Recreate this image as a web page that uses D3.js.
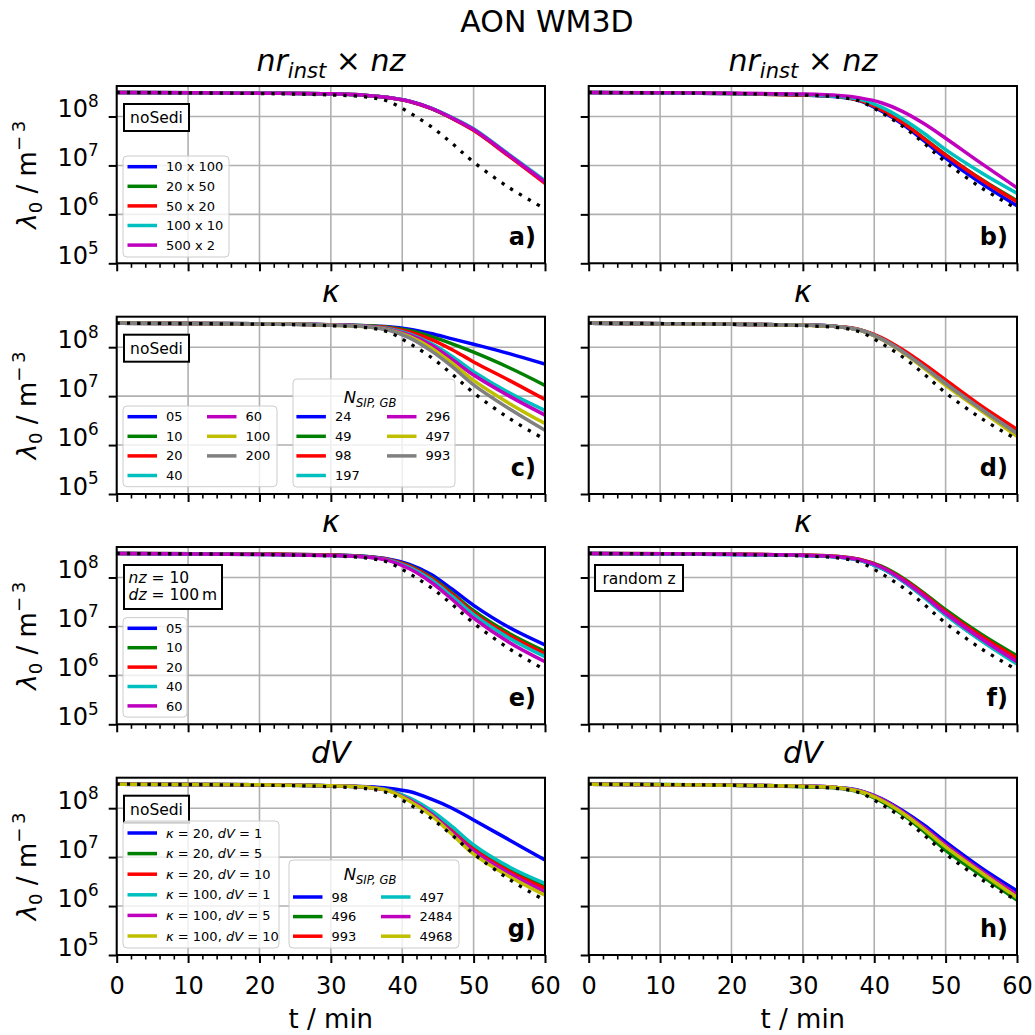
<!DOCTYPE html>
<html>
<head>
<meta charset="utf-8">
<script src="https://cdn.jsdelivr.net/npm/d3@7"></script>
<style>
body { margin: 0; background: #fff; }
svg text { font-family: "DejaVu Sans", sans-serif; }
</style>
</head>
<body>
<svg id="fig" width="1035" height="1035"></svg>
<script>
var timeMin = [0, 20, 30, 35, 38, 41, 44, 47, 50, 55, 60]

// black dotted reference, the same in every panel
var refCurve = [3.1e8, 2.95e8, 2.75e8, 2.5e8, 2.05e8, 1.2e8, 6.3e7, 2.8e7, 1.17e7, 3.5e6, 1.3e6]

// a) nr_inst x nz, noSedi
var a_10x100 = [3.1e8, 3.0e8, 2.9e8, 2.7e8, 2.45e8, 2.05e8, 1.48e8, 9.3e7, 5.4e7, 1.6e7, 4.6e6]
var a_20x50 = [3.1e8, 3.0e8, 2.9e8, 2.7e8, 2.45e8, 2.04e8, 1.47e8, 9.2e7, 5.3e7, 1.57e7, 4.5e6]
var a_50x20 = [3.1e8, 3.0e8, 2.9e8, 2.7e8, 2.44e8, 2.03e8, 1.46e8, 9.1e7, 5.2e7, 1.53e7, 4.3e6]
var a_100x10 = [3.1e8, 3.0e8, 2.9e8, 2.7e8, 2.46e8, 2.06e8, 1.5e8, 9.5e7, 5.6e7, 1.66e7, 4.9e6]
var a_500x2 = [3.1e8, 3.0e8, 2.9e8, 2.7e8, 2.45e8, 2.05e8, 1.48e8, 9.3e7, 5.4e7, 1.6e7, 4.6e6]

// b) nr_inst x nz
var b_10x100 = [3.1e8, 2.95e8, 2.75e8, 2.5e8, 2.1e8, 1.29e8, 6.9e7, 3.16e7, 1.41e7, 4.3e6, 1.5e6]
var b_20x50 = [3.1e8, 2.95e8, 2.75e8, 2.57e8, 2.14e8, 1.38e8, 7.6e7, 3.55e7, 1.66e7, 5.2e6, 1.9e6]
var b_50x20 = [3.1e8, 2.95e8, 2.75e8, 2.57e8, 2.14e8, 1.38e8, 7.4e7, 3.5e7, 1.62e7, 5.1e6, 1.8e6]
var b_100x10 = [3.1e8, 2.95e8, 2.82e8, 2.57e8, 2.24e8, 1.55e8, 8.9e7, 4.5e7, 2.1e7, 7.1e6, 2.7e6]
var b_500x2 = [3.1e8, 3.0e8, 2.88e8, 2.69e8, 2.4e8, 1.91e8, 1.26e8, 7.1e7, 3.6e7, 1.1e7, 3.5e6]

// c) kappa, noSedi
var c_k05 = [3.1e8, 3.0e8, 2.88e8, 2.75e8, 2.63e8, 2.34e8, 1.91e8, 1.48e8, 1.15e8, 7.4e7, 4.5e7]
var c_k10 = [3.1e8, 3.0e8, 2.88e8, 2.75e8, 2.57e8, 2.19e8, 1.66e8, 1.17e8, 7.9e7, 3.8e7, 1.66e7]
var c_k20 = [3.1e8, 3.0e8, 2.88e8, 2.69e8, 2.51e8, 2.04e8, 1.45e8, 8.9e7, 5.0e7, 2.1e7, 8.5e6]
var c_k40 = [3.1e8, 3.0e8, 2.88e8, 2.69e8, 2.4e8, 1.86e8, 1.2e8, 6.5e7, 3.16e7, 1.17e7, 5.1e6]
var c_k60 = [3.1e8, 3.0e8, 2.88e8, 2.69e8, 2.34e8, 1.78e8, 1.12e8, 5.6e7, 2.7e7, 1.0e7, 4.1e6]
var c_k100 = [3.1e8, 3.0e8, 2.82e8, 2.63e8, 2.29e8, 1.66e8, 9.8e7, 4.7e7, 2.1e7, 7.1e6, 2.75e6]
var c_k200 = [3.1e8, 3.0e8, 2.82e8, 2.63e8, 2.24e8, 1.55e8, 8.5e7, 4.0e7, 1.7e7, 5.5e6, 2.0e6]

// d) kappa
var d_k05 = [3.1e8, 2.95e8, 2.82e8, 2.63e8, 2.24e8, 1.49e8, 8.2e7, 4.0e7, 1.85e7, 5.5e6, 1.76e6]
var d_k10 = [3.1e8, 2.95e8, 2.82e8, 2.63e8, 2.25e8, 1.5e8, 8.3e7, 4.05e7, 1.88e7, 5.6e6, 1.8e6]
var d_k20 = [3.1e8, 2.95e8, 2.82e8, 2.63e8, 2.29e8, 1.58e8, 8.9e7, 4.5e7, 2.14e7, 6.3e6, 2.1e6]
var d_k40 = [3.1e8, 2.95e8, 2.82e8, 2.63e8, 2.24e8, 1.48e8, 8.1e7, 3.9e7, 1.82e7, 5.4e6, 1.74e6]
var d_k60 = [3.1e8, 2.95e8, 2.82e8, 2.63e8, 2.24e8, 1.47e8, 8.0e7, 3.85e7, 1.78e7, 5.3e6, 1.7e6]
var d_k100 = [3.1e8, 2.95e8, 2.82e8, 2.63e8, 2.22e8, 1.45e8, 7.8e7, 3.7e7, 1.66e7, 5.0e6, 1.5e6]
var d_k200 = [3.1e8, 2.95e8, 2.82e8, 2.63e8, 2.24e8, 1.48e8, 8.1e7, 3.9e7, 1.8e7, 5.4e6, 1.72e6]

// e) kappa, nz = 10, dz = 100 m
var e_k05 = [3.1e8, 3.0e8, 2.88e8, 2.69e8, 2.4e8, 1.86e8, 1.17e8, 5.75e7, 2.7e7, 9.5e6, 4.2e6]
var e_k10 = [3.1e8, 3.0e8, 2.88e8, 2.69e8, 2.34e8, 1.74e8, 1.02e8, 4.8e7, 2.1e7, 7.2e6, 3.1e6]
var e_k20 = [3.1e8, 3.0e8, 2.88e8, 2.63e8, 2.34e8, 1.7e8, 9.8e7, 4.5e7, 1.9e7, 6.5e6, 2.75e6]
var e_k40 = [3.1e8, 2.95e8, 2.82e8, 2.63e8, 2.29e8, 1.62e8, 9.1e7, 4.1e7, 1.74e7, 5.75e6, 2.4e6]
var e_k60 = [3.1e8, 2.95e8, 2.82e8, 2.63e8, 2.24e8, 1.51e8, 8.1e7, 3.55e7, 1.48e7, 4.7e6, 1.9e6]

// f) kappa, random z
var f_k05 = [3.1e8, 2.95e8, 2.82e8, 2.63e8, 2.24e8, 1.55e8, 8.5e7, 4.0e7, 1.74e7, 5.2e6, 1.78e6]
var f_k10 = [3.1e8, 3.0e8, 2.88e8, 2.69e8, 2.34e8, 1.7e8, 9.8e7, 4.8e7, 2.2e7, 6.9e6, 2.5e6]
var f_k20 = [3.1e8, 3.0e8, 2.88e8, 2.69e8, 2.34e8, 1.66e8, 9.3e7, 4.5e7, 2.0e7, 6.3e6, 2.24e6]
var f_k40 = [3.1e8, 2.95e8, 2.82e8, 2.63e8, 2.24e8, 1.55e8, 8.5e7, 3.9e7, 1.7e7, 5.1e6, 1.7e6]
var f_k60 = [3.1e8, 3.0e8, 2.85e8, 2.66e8, 2.29e8, 1.62e8, 8.9e7, 4.2e7, 1.86e7, 5.6e6, 1.9e6]

// g) dV, noSedi
var g_k20dv1 = [3.1e8, 3.0e8, 2.88e8, 2.75e8, 2.57e8, 2.19e8, 1.55e8, 1.0e8, 5.75e7, 2.24e7, 8.7e6]
var g_k20dv5 = [3.1e8, 3.0e8, 2.88e8, 2.69e8, 2.34e8, 1.55e8, 8.3e7, 3.6e7, 1.51e7, 5.5e6, 2.45e6]
var g_k20dv10 = [3.1e8, 3.0e8, 2.88e8, 2.69e8, 2.34e8, 1.55e8, 8.1e7, 3.55e7, 1.45e7, 5.1e6, 2.3e6]
var g_k100dv1 = [3.1e8, 3.0e8, 2.88e8, 2.69e8, 2.34e8, 1.62e8, 9.1e7, 4.2e7, 1.78e7, 6.3e6, 2.9e6]
var g_k100dv5 = [3.1e8, 3.0e8, 2.88e8, 2.69e8, 2.29e8, 1.48e8, 7.8e7, 3.2e7, 1.32e7, 4.6e6, 1.95e6]
var g_k100dv10 = [3.1e8, 3.0e8, 2.88e8, 2.69e8, 2.29e8, 1.41e8, 7.2e7, 2.9e7, 1.15e7, 4.0e6, 1.66e6]

// h) dV
var h_k20dv1 = [3.1e8, 2.95e8, 2.82e8, 2.63e8, 2.29e8, 1.58e8, 8.9e7, 4.5e7, 2.04e7, 6.0e6, 2.04e6]
var h_k20dv5 = [3.1e8, 2.95e8, 2.75e8, 2.57e8, 2.14e8, 1.38e8, 7.4e7, 3.3e7, 1.38e7, 4.2e6, 1.32e6]
var h_k20dv10 = [3.1e8, 2.95e8, 2.82e8, 2.63e8, 2.24e8, 1.51e8, 8.3e7, 4.0e7, 1.78e7, 5.2e6, 1.7e6]
var h_k100dv1 = [3.1e8, 2.95e8, 2.82e8, 2.63e8, 2.24e8, 1.5e8, 8.2e7, 3.95e7, 1.72e7, 5.1e6, 1.68e6]
var h_k100dv5 = [3.1e8, 2.95e8, 2.82e8, 2.63e8, 2.24e8, 1.51e8, 8.3e7, 4.0e7, 1.78e7, 5.2e6, 1.7e6]
var h_k100dv10 = [3.1e8, 2.95e8, 2.82e8, 2.63e8, 2.19e8, 1.45e8, 7.9e7, 3.7e7, 1.62e7, 4.8e6, 1.5e6]

// legend labels
var nrnzLabels = ['10 x 100', '20 x 50', '50 x 20', '100 x 10', '500 x 2']
var kappaLabels = ['05', '10', '20', '40', '60', '100', '200']
var nsipKappa = ['24', '49', '98', '197', '296', '497', '993']
var kappaG = [20, 20, 20, 100, 100, 100]
var dvG = [1, 5, 10, 1, 5, 10]
var nsipDv = ['98', '496', '993', '497', '2484', '4968']

var xTicks = [0, 10, 20, 30, 40, 50, 60]
var yTicks = [1e5, 1e6, 1e7, 1e8]

var colors = ['#0000ff', '#008000', '#ff0000', '#00bfbf', '#bf00bf', '#bfbf00', '#808080']

var panelW = 428.3, panelH = 177.3
var colX = [116.7, 588.7]
var rowY = [86, 316.7, 547, 777.7]

var xScale = d3.scaleLinear().domain([0, 60]).range([0, panelW])
var yScale = d3.scaleLog().domain([1e5, 4.2e8]).range([panelH, 0])

var svg = d3.select('#fig')

// text with italic / sub / superscript pieces
function rich(sel, parts, fs) {
    var off = 0
    parts.forEach(function (p) {
        var o = p.sub ? 0.22 * fs : (p.sup ? -0.42 * fs : 0)
        var ts = sel.append('tspan').text(p.t)
            .attr('dy', o - off)
            .attr('font-size', (p.sub || p.sup) ? fs * 0.7 : fs)
        if (p.it) ts.attr('font-style', 'italic')
        off = o
    })
}

var nrnzTitle = [{t: 'nr', it: true}, {t: 'inst', it: true, sub: true}, {t: ' \u00d7 '}, {t: 'nz', it: true}]
var kappaTitle = [{t: '\u03ba', it: true}]
var dvTitle = [{t: 'dV', it: true}]
var nsipTitle = [{t: 'N', it: true}, {t: 'SIP, GB', it: true, sub: true}]

function plain(labels, n) {
    return labels.slice(0, n).map(function (l, i) { return {parts: [{t: l}], color: colors[i]} })
}
function dvEntries() {
    return kappaG.map(function (k, i) {
        return {parts: [{t: '\u03ba', it: true}, {t: ' = ' + k + ', '}, {t: 'dV', it: true}, {t: ' = ' + dvG[i]}], color: colors[i]}
    })
}
var nsipDvEntries = nsipDv.map(function (l, i) { return {parts: [{t: l}], color: colors[i]} })

var noSediBox = {x: 7.3, y: 18, w: 65, h: 27, lines: [[{t: 'noSedi'}]], anchor: 'middle'}

var panels = [
    {lab: 'a)', row: 0, col: 0, title: nrnzTitle, series: [a_10x100, a_20x50, a_50x20, a_100x10, a_500x2], box: noSediBox,
     legends: [{x: 6.3, y: 70, w: 106, h: 101, ncol: 1, colX: [10.8], row0: 80.7, step: 19.6, entries: plain(nrnzLabels, 5)}]},
    {lab: 'b)', row: 0, col: 1, title: nrnzTitle, series: [b_10x100, b_20x50, b_50x20, b_100x10, b_500x2], legends: []},
    {lab: 'c)', row: 1, col: 0, title: kappaTitle, series: [c_k05, c_k10, c_k20, c_k40, c_k60, c_k100, c_k200], box: noSediBox,
     legends: [{x: 6.3, y: 89.3, w: 154, h: 80.7, ncol: 2, colX: [10.8, 90.3], row0: 100, step: 19.6, entries: plain(kappaLabels, 7)},
               {x: 176.3, y: 62.3, w: 162, h: 108, ncol: 2, colX: [179.7, 270.3], row0: 100, step: 19.6, title: nsipTitle, titleY: 86.6,
                entries: plain(nsipKappa, 7)}]},
    {lab: 'd)', row: 1, col: 1, title: kappaTitle, series: [d_k05, d_k10, d_k20, d_k40, d_k60, d_k100, d_k200], legends: []},
    {lab: 'e)', row: 2, col: 0, title: kappaTitle, series: [e_k05, e_k10, e_k20, e_k40, e_k60],
     box: {x: 7.3, y: 18, w: 98, h: 44, anchor: 'start', tx: 11.9, lineY: [36, 53],
           lines: [[{t: 'nz', it: true}, {t: ' = 10'}], [{t: 'dz', it: true}, {t: ' = 100\u2009m'}]]},
     legends: [{x: 6.3, y: 70.6, w: 64, h: 99.5, ncol: 1, colX: [10.8], row0: 81.3, step: 19.4, entries: plain(kappaLabels, 5)}]},
    {lab: 'f)', row: 2, col: 1, title: kappaTitle, series: [f_k05, f_k10, f_k20, f_k40, f_k60],
     box: {x: 6.3, y: 18, w: 88, h: 26, lines: [[{t: 'random z'}]], anchor: 'middle'}, legends: []},
    {lab: 'g)', row: 3, col: 0, title: dvTitle, series: [g_k20dv1, g_k20dv5, g_k20dv10, g_k100dv1, g_k100dv5, g_k100dv10], box: noSediBox,
     legends: [{x: 6.3, y: 43.3, w: 156, h: 127, ncol: 1, colX: [10.8], row0: 55.3, step: 20.6, entries: dvEntries()},
               {x: 172.3, y: 82.3, w: 170, h: 88, ncol: 2, colX: [176.3, 264.3], row0: 119.3, step: 19.6, title: nsipTitle, titleY: 102.3,
                entries: nsipDvEntries}]},
    {lab: 'h)', row: 3, col: 1, title: dvTitle, series: [h_k20dv1, h_k20dv5, h_k20dv10, h_k100dv1, h_k100dv5, h_k100dv10], legends: []}
]

svg.append('text').attr('x', 547).attr('y', 31.5).attr('text-anchor', 'middle')
    .attr('font-size', 30).text('AON WM3D')

var line = d3.line()
    .x(function (d, i) { return xScale(timeMin[i]) })
    .y(function (d) { return yScale(d) })
    .curve(d3.curveCatmullRom.alpha(0.5))

function drawLegend(g, L) {
    g.append('rect').attr('x', L.x).attr('y', L.y).attr('width', L.w).attr('height', L.h)
        .attr('rx', 4).attr('fill', '#fff').attr('fill-opacity', 0.8)
        .attr('stroke', '#cccccc').attr('stroke-width', 1)
    if (L.title) {
        var tt = g.append('text').attr('x', L.x + L.w / 2 - 4).attr('y', L.titleY).attr('text-anchor', 'middle')
        rich(tt, L.title, 16.5)
    }
    var nrows = Math.ceil(L.entries.length / L.ncol)
    L.entries.forEach(function (e, i) {
        var c = Math.floor(i / nrows), r = i % nrows
        var hx = L.colX[c], y = L.row0 + r * L.step
        g.append('line').attr('x1', hx).attr('x2', hx + 29.5).attr('y1', y).attr('y2', y)
            .attr('stroke', e.color).attr('stroke-width', 3.5)
        var t = g.append('text').attr('x', hx + 38.5).attr('y', y + 4.6)
        rich(t, e.parts, 13)
    })
}

panels.forEach(function (p, pi) {
    var g = svg.append('g').attr('transform', 'translate(' + colX[p.col] + ',' + rowY[p.row] + ')')
    var bottom = p.row === 3, left = p.col === 0

    g.append('clipPath').attr('id', 'clip' + pi).append('rect')
        .attr('width', panelW).attr('height', panelH)

    // grid
    g.selectAll('.gx').data(xTicks).enter().append('line')
        .attr('x1', function (d) { return xScale(d) }).attr('x2', function (d) { return xScale(d) })
        .attr('y1', 0).attr('y2', panelH).attr('stroke', '#b0b0b0').attr('stroke-width', 1.6)
    g.selectAll('.gy').data(yTicks).enter().append('line')
        .attr('x1', 0).attr('x2', panelW)
        .attr('y1', function (d) { return yScale(d) }).attr('y2', function (d) { return yScale(d) })
        .attr('stroke', '#b0b0b0').attr('stroke-width', 1.6)

    var lg = g.append('g').attr('clip-path', 'url(#clip' + pi + ')')
    p.series.forEach(function (s, i) {
        lg.append('path').attr('d', line(s)).attr('fill', 'none')
            .attr('stroke', colors[i]).attr('stroke-width', 3.5)
    })
    lg.append('path').attr('d', line(refCurve)).attr('fill', 'none')
        .attr('stroke', '#000').attr('stroke-width', 3.3).attr('stroke-dasharray', '3.3,7')

    // spines
    g.append('rect').attr('width', panelW).attr('height', panelH)
        .attr('fill', 'none').attr('stroke', '#000').attr('stroke-width', 2)

    // x axis, major + minor ticks
    var xMajor = d3.axisBottom(xScale).tickValues(xTicks).tickSize(8).tickPadding(14)
        .tickFormat(bottom ? d3.format('d') : function () { return '' })
    var xa = g.append('g').attr('transform', 'translate(0,' + panelH + ')').call(xMajor)
    xa.select('.domain').remove()
    xa.attr('font-size', 24).attr('font-family', '"DejaVu Sans", sans-serif')
    xa.selectAll('line').attr('stroke-width', 2)

    var xMinor = d3.axisBottom(xScale).tickValues(d3.range(0, 61, 2).filter(function (v) { return v % 10 })).tickSize(4.5).tickFormat('')
    var xm = g.append('g').attr('transform', 'translate(0,' + panelH + ')').call(xMinor)
    xm.select('.domain').remove()
    xm.selectAll('line').attr('stroke-width', 1.6)

    // y axis
    var yAxis = d3.axisLeft(yScale).tickValues(yTicks).tickSize(8).tickPadding(10)
        .tickFormat(function () { return '' })
    var ya = g.append('g').call(yAxis)
    ya.select('.domain').remove()
    ya.attr('font-size', 24).attr('font-family', '"DejaVu Sans", sans-serif')
    ya.selectAll('line').attr('stroke-width', 2)
    if (left) {
        ya.selectAll('text').each(function (d) {
            var t = d3.select(this)
            t.text(null)
            rich(t, [{t: '10'}, {t: String(Math.round(Math.log10(d))), sup: true}], 24)
        })
        var yl = svg.append('text')
            .attr('transform', 'translate(36,' + (rowY[p.row] + panelH / 2) + ') rotate(-90)')
            .attr('text-anchor', 'middle')
        rich(yl, [{t: '\u03bb', it: true}, {t: '0', sub: true}, {t: ' / m'}, {t: '\u2212\u20093', sup: true}], 26)
    }
    if (bottom) {
        g.append('text').attr('x', panelW / 2).attr('y', panelH + 73)
            .attr('text-anchor', 'middle').attr('font-size', 26).text('t / min')
    }

    // title
    var tt = g.append('text').attr('x', panelW / 2).attr('y', -15).attr('text-anchor', 'middle')
    rich(tt, p.title, 30)

    // text box
    if (p.box) {
        var b = p.box
        g.append('rect').attr('x', b.x).attr('y', b.y).attr('width', b.w).attr('height', b.h)
            .attr('fill', '#fff').attr('stroke', '#000').attr('stroke-width', 2)
        b.lines.forEach(function (ln, i) {
            var t = g.append('text')
                .attr('x', b.anchor === 'middle' ? b.x + b.w / 2 : b.tx)
                .attr('y', b.lineY ? b.lineY[i] : b.y + b.h / 2 + 5.5)
                .attr('text-anchor', b.anchor)
            rich(t, ln, 15.5)
        })
    }

    p.legends.forEach(function (L) { drawLegend(g, L) })

    g.append('text').attr('x', panelW - 9).attr('y', panelH - 18)
        .attr('text-anchor', 'end').attr('font-size', 24).attr('font-weight', 'bold').text(p.lab)
})
</script>
</body>
</html>
